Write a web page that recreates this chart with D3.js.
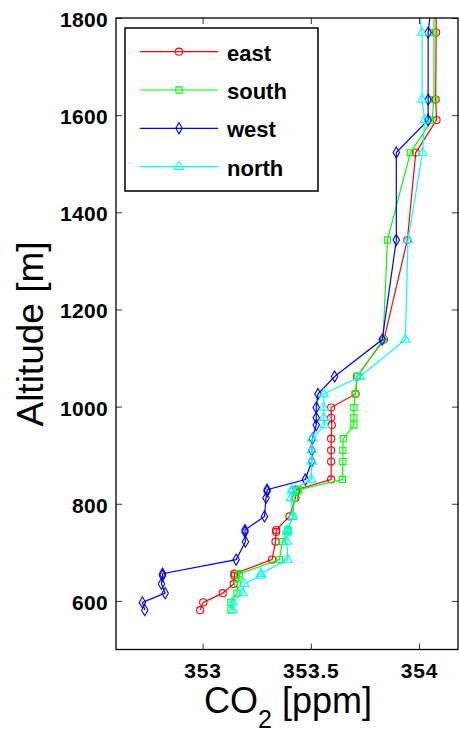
<!DOCTYPE html>
<html>
<head>
<meta charset="utf-8">
<script src="https://cdn.jsdelivr.net/npm/d3@7"></script>
<style>
  html, body { margin: 0; padding: 0; background: #fff; }
  svg { display: block; }
</style>
</head>
<body>
<svg id="chart" width="459" height="732"></svg>
<script>
// Altitude levels [m] (shared by all four profiles)
const altitudes = [1850, 1770, 1632, 1590, 1523, 1343, 1138, 1062, 1026, 998, 977, 962, 934, 910, 887, 850, 829, 826, 812, 774, 746, 742, 722, 685, 656, 652, 635, 616, 597, 581];

// CO2 [ppm] per profile
const east  = [354.079, 354.079, 354.077, 354.081, 353.985, 353.946, 353.838, 353.713, 353.707, 353.594, 353.594, 353.597, 353.594, 353.594, 353.594, 353.594, 353.432, 353.432, 353.429, 353.401, 353.340, 353.340, 353.337, 353.321, 353.147, 353.147, 353.144, 353.093, 353.003, 352.989];
const south = [354.069, 354.069, 354.069, 354.060, 353.960, 353.854, 353.834, 353.715, 353.705, 353.699, 353.699, 353.699, 353.650, 353.648, 353.648, 353.646, 353.444, 353.440, 353.424, 353.417, 353.394, 353.394, 353.368, 353.355, 353.170, 353.170, 353.162, 353.159, 353.131, 353.131];
const west  = [354.063, 354.042, 354.042, 354.042, 353.895, 353.895, 353.830, 353.610, 353.533, 353.525, 353.525, 353.525, 353.507, 353.504, 353.504, 353.475, 353.298, 353.298, 353.293, 353.286, 353.196, 353.196, 353.198, 353.155, 352.815, 352.815, 352.810, 352.827, 352.722, 352.733];
const north = [353.986, 354.014, 354.014, 354.026, 354.016, 353.949, 353.937, 353.728, 353.560, 353.560, 353.560, 353.565, 353.507, 353.504, 353.504, 353.503, 353.414, 353.414, 353.409, 353.417, 353.390, 353.390, 353.390, 353.393, 353.270, 353.270, 353.193, 353.185, 353.139, 353.139];

const seriesNames = ["east", "south", "west", "north"];
const seriesColors = ["#ff0000", "#00ff00", "#0000ff", "#00ffff"];
const seriesSymbols = [d3.symbolCircle, d3.symbolSquare, d3.symbolDiamond, d3.symbolTriangle];
const seriesSizes = [40, 38, 36, 36];
const seriesValues = [east, south, west, north];

const xTicks = [353, 353.5, 354];
const yTicks = [600, 800, 1000, 1200, 1400, 1600, 1800];

const svg = d3.select("#chart");
const L = 116, R = 458, T = 18, B = 649.5;

const x = d3.scaleLinear().domain([352.6, 354.18]).range([L, R]);
const y = d3.scaleLinear().domain([500, 1800]).range([B, T]);

svg.append("defs").append("clipPath").attr("id", "clip")
  .append("rect").attr("x", L).attr("y", T).attr("width", R - L).attr("height", B - T);

// data
const plot = svg.append("g").attr("clip-path", "url(#clip)");
seriesNames.forEach((name, i) => {
  const pts = altitudes.map((a, j) => [seriesValues[i][j], a]);
  const line = d3.line().x(d => x(d[0])).y(d => y(d[1]));
  plot.append("path").datum(pts)
    .attr("d", line)
    .attr("fill", "none")
    .attr("stroke", seriesColors[i])
    .attr("stroke-width", 1.2);
  const sym = d3.symbol().type(seriesSymbols[i]).size(seriesSizes[i]);
  plot.selectAll(null).data(pts).enter().append("path")
    .attr("d", sym)
    .attr("transform", d => `translate(${x(d[0])},${y(d[1])})`)
    .attr("fill", "none")
    .attr("stroke", seriesColors[i])
    .attr("stroke-width", 1.1);
});

// axes (ticks inward, all four sides)
const tickFont = "bold 21px 'Liberation Sans', Arial, sans-serif";
const axB = svg.append("g").attr("transform", `translate(0,${B})`)
  .call(d3.axisBottom(x).tickValues(xTicks).tickSizeInner(-6).tickSizeOuter(0).tickFormat(d3.format("")));
const axT = svg.append("g").attr("transform", `translate(0,${T})`)
  .call(d3.axisTop(x).tickValues(xTicks).tickSizeInner(-6).tickSizeOuter(0).tickFormat(""));
const axL = svg.append("g").attr("transform", `translate(${L},0)`)
  .call(d3.axisLeft(y).tickValues(yTicks).tickSizeInner(-6).tickSizeOuter(0).tickFormat(d3.format("d")));
const axR = svg.append("g").attr("transform", `translate(${R},0)`)
  .call(d3.axisRight(y).tickValues(yTicks).tickSizeInner(-6).tickSizeOuter(0).tickFormat(""));

[axB, axT, axL, axR].forEach(g => {
  g.select(".domain").remove();
  g.selectAll(".tick line").attr("stroke", "#333").attr("stroke-width", 1);
  g.selectAll("text").style("font", tickFont).attr("fill", "#000");
});
axB.selectAll("text").attr("dy", "0.71em").attr("y", 14).style("letter-spacing", "0.8px");
axL.selectAll("text").attr("dy", "0.4em").attr("x", -8).style("letter-spacing", "0.3px");

// frame
svg.append("rect").attr("x", L).attr("y", T).attr("width", R - L).attr("height", B - T)
  .attr("fill", "none").attr("stroke", "#000").attr("stroke-width", 1.3);

// axis titles
svg.append("text")
  .attr("transform", `translate(43,334) rotate(-90)`)
  .attr("text-anchor", "middle")
  .style("font", "37px 'Liberation Sans', Arial, sans-serif")
  .text("Altitude [m]");

const xt = svg.append("text")
  .attr("x", 288).attr("y", 713)
  .attr("text-anchor", "middle")
  .style("font", "36px 'Liberation Sans', Arial, sans-serif");
xt.append("tspan").text("CO");
xt.append("tspan").attr("dy", 15).style("font-size", "25px").text("2");
xt.append("tspan").attr("dy", -15).text(" [ppm]");

// legend
const leg = svg.append("g");
leg.append("rect").attr("x", 125).attr("y", 28).attr("width", 193).attr("height", 163)
  .attr("fill", "#fff").attr("stroke", "#000").attr("stroke-width", 1.5);
const legY = [51.7, 90, 128.3, 166.7];
seriesNames.forEach((name, i) => {
  const g = leg.append("g").attr("transform", `translate(0,${legY[i]})`);
  g.append("line").attr("x1", 140).attr("x2", 218).attr("y1", 0).attr("y2", 0)
    .attr("stroke", seriesColors[i]).attr("stroke-width", 1.2);
  g.append("path").attr("d", d3.symbol().type(seriesSymbols[i]).size(seriesSizes[i])())
    .attr("transform", "translate(179,0)")
    .attr("fill", "none").attr("stroke", seriesColors[i]).attr("stroke-width", 1.1);
  g.append("text").attr("x", 227).attr("y", 9)
    .style("font", "bold 22px 'Liberation Sans', Arial, sans-serif")
    .text(name);
});
</script>
</body>
</html>
